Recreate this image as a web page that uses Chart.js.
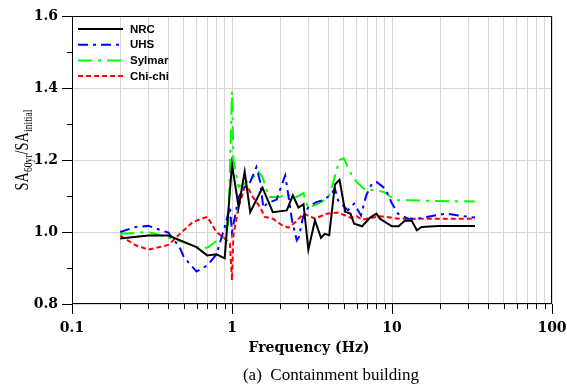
<!DOCTYPE html>
<html>
<head>
<meta charset="utf-8">
<script src="https://cdn.jsdelivr.net/npm/chart.js@4/dist/chart.umd.min.js"></script>
<style>
  html, body { margin: 0; padding: 0; background: #fff; }
  #wrap { width: 567px; height: 389px; }
</style>
</head>
<body>
<div id="wrap"><canvas id="chart" width="567" height="389"></canvas></div>
<script>
// ==========================================
// DATA
// ==========================================
const xTickValues = [0.1, 0.2, 0.3, 0.4, 0.5, 0.6, 0.7, 0.8, 0.9,
                     1, 2, 3, 4, 5, 6, 7, 8, 9,
                     10, 20, 30, 40, 50, 60, 70, 80, 90, 100];
const xMajorTicks = [0.1, 1, 10, 100];

const nrcFreq = [0.2, 0.3, 0.4, 0.6, 0.7, 0.8, 0.9, 1.0, 1.1, 1.2, 1.3, 1.55, 1.8, 2.2, 2.4, 2.6, 2.8, 3.0, 3.3, 3.6,
                 3.8, 4.05, 4.4, 4.7, 5.1, 5.5, 5.8, 6.5, 7.3, 8.0, 8.4, 10, 11, 12, 13.3, 14.3, 15.3, 19.5, 33];
const nrcVal  = [0.982, 0.99, 0.99, 0.958, 0.935, 0.938, 0.927, 1.188, 1.069, 1.167, 1.055, 1.123, 1.055, 1.06, 1.102, 1.068, 1.077, 0.951, 1.032, 0.984,
                 0.995, 0.991, 1.132, 1.145, 1.056, 1.051, 1.023, 1.016, 1.04, 1.051, 1.037, 1.016, 1.016, 1.031, 1.031, 1.005, 1.014, 1.017, 1.017];

const uhsFreq = [0.2, 0.25, 0.3, 0.4, 0.47, 0.5, 0.6, 0.7, 0.8, 0.9, 0.97, 1.0, 1.1, 1.2, 1.3, 1.42, 1.5, 1.57, 1.65, 1.9,
                 2.15, 2.25, 2.37, 2.54, 2.62, 2.78, 3.0, 3.36, 3.7, 4.1, 4.4, 4.6, 5.3, 5.8, 6.4, 6.9, 7.5, 8.0, 9.1, 10,
                 10.9, 12.6, 14.5, 17.5, 22, 26, 33];
const uhsVal  = [1.0, 1.014, 1.017, 0.998, 0.958, 0.93, 0.89, 0.907, 0.938, 1.014, 1.069, 1.0, 1.097, 1.125, 1.139, 1.18, 1.14, 1.067, 1.079, 1.09,
                 1.157, 1.102, 1.033, 0.977, 0.986, 1.042, 1.069, 1.083, 1.088, 1.102, 1.12, 1.088, 1.06, 1.079, 1.046, 1.102, 1.134, 1.139, 1.12, 1.079,
                 1.051, 1.037, 1.037, 1.044, 1.051, 1.046, 1.04];

const sylFreq = [0.2, 0.3, 0.4, 0.5, 0.6, 0.7, 0.8, 0.88, 0.95, 1.0, 1.02, 1.1, 1.2, 1.35, 1.45, 1.55, 1.7, 2.0, 2.2, 2.4,
                 2.6, 2.8, 2.9, 3.0, 3.5, 4.0, 4.3, 4.7, 5.0, 5.4, 6.0, 6.8, 8.0, 9.0, 10, 11, 13, 20, 33];
const sylVal  = [0.995, 1.0, 0.985, 0.972, 0.958, 0.956, 0.975, 0.986, 1.023, 1.39, 1.2, 1.125, 1.135, 1.15, 1.17, 1.153, 1.097, 1.097, 1.108, 1.093,
                 1.1, 1.108, 1.083, 1.067, 1.08, 1.095, 1.14, 1.2, 1.205, 1.17, 1.139, 1.117, 1.116, 1.11, 1.095, 1.088, 1.088, 1.086, 1.085];

const chiFreq = [0.2, 0.25, 0.3, 0.4, 0.5, 0.57, 0.7, 0.8, 0.9, 0.97, 1.0, 1.02, 1.1, 1.2, 1.27, 1.35, 1.5, 1.6, 1.8, 2.05,
                 2.25, 2.5, 2.8, 3.3, 3.9, 4.6, 5.5, 6.0, 6.5, 8.4, 11, 33];
const chiVal  = [0.99, 0.963, 0.951, 0.964, 1.005, 1.028, 1.042, 1.0, 0.982, 0.968, 0.866, 0.99, 1.07, 1.125, 1.12, 1.097, 1.069, 1.042, 1.037, 1.019,
                 1.012, 1.028, 1.051, 1.037, 1.051, 1.054, 1.04, 1.044, 1.034, 1.044, 1.037, 1.037];

const zip = (xs, ys) => xs.map((x, i) => ({ x: x, y: ys[i] }));

// ==========================================
// EXTRA DRAWING: frame, tick marks, titles, legend
// ==========================================
const decorPlugin = {
    id: 'decor',
    afterDraw(chart) {
        const ctx = chart.ctx;
        const area = chart.chartArea;
        const xs = chart.scales.x;
        const ys = chart.scales.y;
        ctx.save();

        // frame
        ctx.strokeStyle = '#000';
        ctx.lineWidth = 1;
        ctx.setLineDash([]);
        ctx.strokeRect(Math.round(area.left) + 0.5, Math.round(area.top) + 0.5,
                       Math.round(area.right - area.left) - 1, Math.round(area.bottom - area.top) - 1);

        // outside tick marks
        ctx.beginPath();
        xs.ticks.forEach(t => {
            const px = Math.round(xs.getPixelForValue(t.value)) + 0.5;
            const len = xMajorTicks.includes(t.value) ? 10 : 5;
            ctx.moveTo(px, area.bottom);
            ctx.lineTo(px, area.bottom + len);
        });
        ys.ticks.forEach(t => {
            const py = Math.round(ys.getPixelForValue(t.value)) + 0.5;
            const len = Math.round(t.value * 10) % 2 === 0 ? 10 : 5;
            ctx.moveTo(area.left, py);
            ctx.lineTo(area.left - len, py);
        });
        ctx.stroke();

        // x title + caption
        ctx.fillStyle = '#000';
        ctx.textAlign = 'center';
        ctx.textBaseline = 'middle';
        ctx.font = 'bold 14px "DejaVu Serif"';
        ctx.fillText('Frequency (Hz)', 309, 348);
        ctx.font = '17px "Liberation Serif"';
        ctx.fillText('(a)  Containment building', 331, 376);

        // y title with subscripts
        const parts = [
            { t: 'SA', f: '18px "Liberation Serif"', dy: 0 },
            { t: '60yr', f: '12px "Liberation Serif"', dy: 4 },
            { t: '/SA', f: '18px "Liberation Serif"', dy: 0 },
            { t: 'initial', f: '12px "Liberation Serif"', dy: 4 }
        ];
        let total = 0;
        parts.forEach(p => { ctx.font = p.f; p.w = ctx.measureText(p.t).width; total += p.w; });
        ctx.translate(28, 150);
        ctx.rotate(-Math.PI / 2);
        ctx.scale(0.8, 1);
        ctx.textAlign = 'left';
        ctx.textBaseline = 'alphabetic';
        let cx = -total / 2;
        parts.forEach(p => { ctx.font = p.f; ctx.fillText(p.t, cx, p.dy); cx += p.w; });
        ctx.restore();

        // legend inside plot
        ctx.save();
        ctx.font = 'bold 11.5px "Liberation Sans"';
        ctx.textBaseline = 'middle';
        ctx.textAlign = 'left';
        chart.data.datasets.forEach((ds, i) => {
            const y = 29 + i * 15.7;
            ctx.beginPath();
            ctx.strokeStyle = ds.borderColor;
            ctx.lineWidth = ds.borderWidth;
            ctx.setLineDash(ds.borderDash || []);
            ctx.moveTo(78, y);
            ctx.lineTo(123, y);
            ctx.stroke();
            ctx.fillStyle = '#000';
            ctx.fillText(ds.label, 130, y + 0.5);
        });
        ctx.restore();
    }
};

// ==========================================
// CHART
// ==========================================
const tickFont = { family: '"DejaVu Serif"', weight: 'bold', size: 14 };

new Chart(document.getElementById('chart'), {
    type: 'line',
    data: {
        datasets: [
            { label: 'NRC', data: zip(nrcFreq, nrcVal), borderColor: '#000000', borderWidth: 2, borderDash: [] },
            { label: 'UHS', data: zip(uhsFreq, uhsVal), borderColor: '#0000ff', borderWidth: 2, borderDash: [10, 5, 3, 5] },
            { label: 'Sylmar', data: zip(sylFreq, sylVal), borderColor: '#00ff00', borderWidth: 2, borderDash: [14, 6, 3, 6] },
            { label: 'Chi-chi', data: zip(chiFreq, chiVal), borderColor: '#ff0000', borderWidth: 2, borderDash: [5, 3] }
        ]
    },
    options: {
        responsive: false,
        animation: false,
        devicePixelRatio: 1,
        layout: { padding: { top: 16, right: 15, left: 0, bottom: 0 } },
        elements: { point: { radius: 0 }, line: { tension: 0, fill: false } },
        plugins: { legend: { display: false }, tooltip: { enabled: false } },
        scales: {
            x: {
                type: 'logarithmic',
                min: 0.1,
                max: 100,
                afterBuildTicks: (s) => { s.ticks = xTickValues.map(v => ({ value: v })); },
                afterFit: (s) => { s.height = 85; s.paddingLeft = 0; s.paddingRight = 0; },
                ticks: {
                    autoSkip: false, maxRotation: 0, padding: 16, color: '#000', font: tickFont,
                    callback: (v) => xMajorTicks.includes(v) ? String(v) : ''
                },
                grid: { color: '#d6d6d6', lineWidth: 1, drawTicks: false },
                border: { display: false }
            },
            y: {
                min: 0.8,
                max: 1.6,
                afterFit: (s) => { s.width = 72; s.paddingTop = 0; s.paddingBottom = 0; },
                ticks: {
                    stepSize: 0.1, padding: 14, color: '#000', font: tickFont,
                    callback: (v) => {
                        const r = Math.round(v * 10);
                        return r % 2 === 0 ? (r / 10).toFixed(1) : '';
                    }
                },
                grid: {
                    drawTicks: false, lineWidth: 1,
                    color: (c) => (c.tick && Math.round(c.tick.value * 10) % 2 === 0) ? '#d6d6d6' : 'rgba(0,0,0,0)'
                },
                border: { display: false }
            }
        }
    },
    plugins: [decorPlugin]
});
</script>
</body>
</html>
